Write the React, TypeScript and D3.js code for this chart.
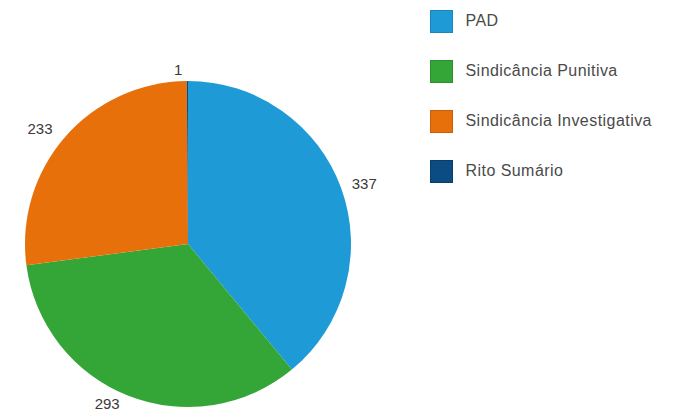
import React from "react";
import * as d3 from "d3";

const categories = ["PAD", "Sindicância Punitiva", "Sindicância Investigativa", "Rito Sumário"];
const values = [337, 293, 233, 1];
const colors = ["#1e9bd7", "#34a637", "#e8700b", "#0d4c82"];
const borders = ["#1a86bb", "#2c8f30", "#c7600a", "#0a3d69"];

export default function App() {
  const W = 675, H = 412;
  const cx = 188, cy = 244, r = 163;
  const pie = d3.pie<number>().sort(null).value((d) => d)(values);
  const arc = d3.arc<d3.PieArcDatum<number>>().innerRadius(0).outerRadius(r);
  const labelR = r + 10;
  return (
    <svg width={W} height={H} style={{ position: "absolute", left: 0, top: 0, background: "#fff" }}
      fontFamily="'Liberation Sans', Arial, sans-serif">
      <g transform={`translate(${cx},${cy})`}>
        {pie.map((p, i) => (
          <path key={i} d={arc(p) || ""} fill={colors[i]} />
        ))}
        {pie.map((p, i) => {
          const a = (p.startAngle + p.endAngle) / 2;
          const x = Math.sin(a) * labelR;
          const y = -Math.cos(a) * labelR;
          const right = x > 0.5;
          return (
            <text key={i} x={right ? x + 1 : x - 5} y={y} fontSize={15} fill="#3a3a3a"
              textAnchor={right ? "start" : "end"} dominantBaseline="middle">
              {values[i]}
            </text>
          );
        })}
      </g>
      {categories.map((c, i) => (
        <g key={c} transform={`translate(430.5,${10.5 + i * 50})`}>
          <rect width={22} height={22} fill={colors[i]} stroke={borders[i]} strokeWidth={1} />
          <text x={35} y={11} fontSize={16} fill="#4a4a4a" dominantBaseline="middle" letterSpacing={0.45}>{c}</text>
        </g>
      ))}
    </svg>
  );
}
